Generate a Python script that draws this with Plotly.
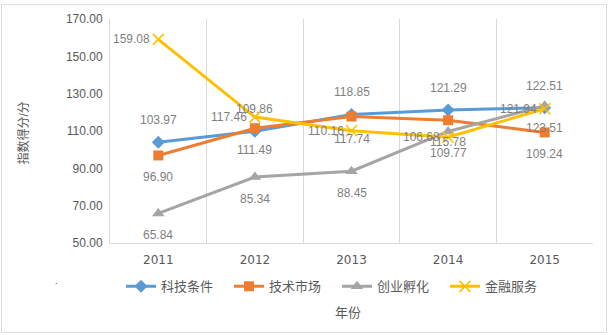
import plotly.graph_objects as go

years = ["2011", "2012", "2013", "2014", "2015"]
keji_tiaojian = [103.97, 109.86, 118.85, 121.29, 122.51]
jishu_shichang = [96.90, 111.49, 117.74, 115.78, 109.24]
chuangye_fuhua = [65.84, 85.34, 88.45, 109.77, 123.51]
jinrong_fuwu = [159.08, 117.46, 110.16, 106.68, 121.94]

series = [
    ("科技条件", keji_tiaojian, "#5B9BD5", dict(symbol="diamond", size=10), "above"),
    ("技术市场", jishu_shichang, "#ED7D31", dict(symbol="square", size=10), "below"),
    ("创业孵化", chuangye_fuhua, "#A5A5A5", dict(symbol="triangle-up", size=11), "below"),
    ("金融服务", jinrong_fuwu, "#FFC000", dict(symbol="x-thin", size=11), "left"),
]

FONT = "Liberation Sans, Arial, Noto Sans CJK SC"
WIDE_FONT = "DejaVu Sans, Liberation Sans, Noto Sans CJK SC"
TICK_COLOR = "#595959"
LABEL_COLOR = "#7F7F7F"
GRID = "#D9D9D9"

W, H = 608, 335
L, R, T, B = 110, 15, 16, 92
pw, ph = W - L - R, H - T - B


def px_x(p):
    return (p - L) / pw


def px_y(p):
    return (H - B - p) / ph


# category positions and the boundaries between them
xpos = list(range(len(years)))
bounds = [i - 0.5 for i in range(len(years) + 1)]

fig = go.Figure()
annotations = []
for name, vals, color, mk, pos in series:
    marker = dict(color=color, **mk)
    if mk["symbol"] == "x-thin":
        marker["line"] = dict(color=color, width=1.6)
    fig.add_trace(go.Scatter(
        x=xpos, y=vals, name=name, mode="lines+markers",
        line=dict(color=color, width=3),
        marker=marker,
    ))
    for xv, yv in zip(xpos, vals):
        a = dict(x=xv, y=yv, xref="x", yref="y", text=f"{yv:.2f}",
                 showarrow=False, xanchor="center", yanchor="middle",
                 font=dict(family=FONT, size=12, color=LABEL_COLOR))
        if pos == "above":
            a.update(yshift=22)
        elif pos == "below":
            a.update(yshift=-22)
        else:
            a.update(xanchor="right", xshift=-6)
        annotations.append(a)

# axis titles
annotations.append(dict(
    x=px_x(23), y=px_y(132), xref="paper", yref="paper", text="指数得分/分",
    textangle=-90, showarrow=False, xanchor="center", yanchor="middle",
    font=dict(family=FONT, size=12, color=TICK_COLOR)))
annotations.append(dict(
    x=px_x(348), y=px_y(313), xref="paper", yref="paper", text="年份",
    showarrow=False, xanchor="center", yanchor="middle",
    font=dict(family=FONT, size=13, color=TICK_COLOR)))
annotations.append(dict(
    x=px_x(56), y=px_y(282), xref="paper", yref="paper", text=".",
    showarrow=False, xanchor="center", yanchor="middle",
    font=dict(family=FONT, size=9, color="#333333")))

fig.update_layout(
    width=W, height=H,
    margin=dict(l=L, r=R, t=T, b=B),
    paper_bgcolor="white", plot_bgcolor="white",
    font=dict(family=FONT, size=12, color=TICK_COLOR),
    showlegend=True,
    legend=dict(
        orientation="h", x=px_x(121), y=px_y(287), xanchor="left", yanchor="middle",
        font=dict(family=FONT, size=13, color=TICK_COLOR),
        itemwidth=30, entrywidth=63, entrywidthmode="pixels",
        bgcolor="rgba(0,0,0,0)",
    ),
    annotations=annotations,
    shapes=[dict(
        type="rect", xref="paper", yref="paper",
        x0=px_x(1.5), x1=px_x(606.5), y0=px_y(333.5), y1=px_y(1.5),
        line=dict(color=GRID, width=1), layer="below")],
    xaxis=dict(
        range=[bounds[0], bounds[-1]],
        tickmode="array", tickvals=xpos, ticktext=years,
        showgrid=False, showline=True, linecolor=GRID, linewidth=1, ticks="",
        minor=dict(tickmode="array", tickvals=bounds, showgrid=True,
                   gridcolor=GRID, gridwidth=1),
        tickfont=dict(family=WIDE_FONT, size=12, color=TICK_COLOR),
        ticklabelstandoff=6, zeroline=False,
    ),
    yaxis=dict(
        range=[50, 170], dtick=20, tick0=50, tickformat=".2f",
        showgrid=False, showline=True, linecolor=GRID, linewidth=1,
        ticks="", zeroline=False, ticklabelstandoff=4,
        tickfont=dict(family=FONT, size=12, color=TICK_COLOR),
    ),
)

fig.write_html("out.html")
